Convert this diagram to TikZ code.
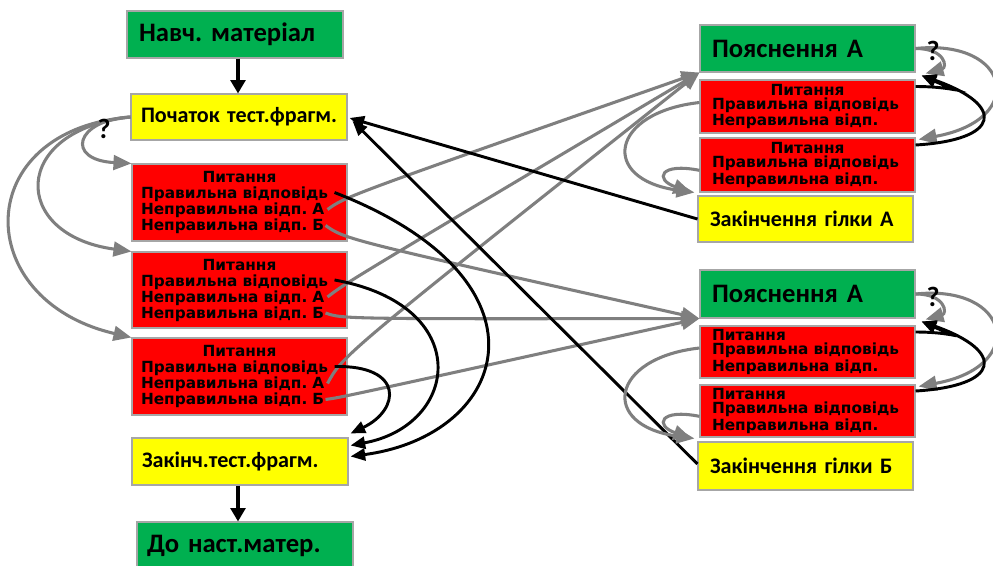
\documentclass[tikz,border=0pt]{standalone}
\usepackage{fontspec}
\setmainfont{Carlito}
\newfontfamily\qfont{DejaVu Sans}
\usetikzlibrary{arrows.meta}

\definecolor{gfill}{HTML}{00B050}
\definecolor{yfill}{HTML}{FFFF00}
\definecolor{rfill}{HTML}{FF0000}
\definecolor{edgegray}{HTML}{A6A6A6}
\definecolor{linkgray}{HTML}{7F7F7F}

\tikzset{
  box/.style={draw=edgegray, line width=0.8pt, inner ysep=0pt, align=left},
  lcol/.style={text width=147pt, inner xsep=7.5pt},
  rcol/.style={text width=143.25pt, inner xsep=9pt},
  titlebox/.style={box, fill=gfill, minimum height=35.25pt, font=\bfseries\fontsize{20}{22}\selectfont},
  markbox/.style={box, fill=yfill, minimum height=34.5pt, font=\bfseries\fontsize{16.6}{19}\selectfont},
  qbox/.style={box, fill=rfill, font=\qfont\bfseries\fontsize{11.5}{12}\selectfont},
  rqbox/.style={qbox, rcol, minimum height=39.75pt, font=\qfont\bfseries\fontsize{11.5}{10.6}\selectfont},
  glink/.style={draw=linkgray, line width=2.3pt, -{Triangle[length=13.5pt,width=11pt]}},
  back/.style={draw=black, line width=2.2pt, -{Triangle[length=11pt,width=9pt]}},
  flow/.style={draw=black, line width=3pt, -{Triangle[length=10pt,width=11pt]}},
  ask/.style={inner sep=0pt, font=\bfseries\fontsize{21}{21}\selectfont},
}

\begin{document}
\frenchspacing
\begin{tikzpicture}[x=0.75pt, y=-0.75pt]
\useasboundingbox (0,0) rectangle (993,565);
\clip (0,0) rectangle (993,565);

% ---- main column ----
\node[titlebox, text width=144pt, inner xsep=9pt] (mat) at (235,34.5) {Навч. матеріал};
\node[markbox, lcol] (start) at (239,117) {\mbox{Початок тест.фрагм.}};
\node[qbox, text width=147.75pt, inner xsep=6.75pt, minimum height=57.75pt] (q1) at (239.5,202.5)
  {\makebox[\linewidth]{Питання}\\Правильна відповідь\\Неправильна відп. А\\Неправильна відп. Б};
\node[qbox, text width=147.75pt, inner xsep=6.75pt, minimum height=57pt] (q2) at (239.5,290)
  {\makebox[\linewidth]{Питання}\\Правильна відповідь\\Неправильна відп. А\\Неправильна відп. Б};
\node[qbox, text width=147.75pt, inner xsep=6.75pt, minimum height=57.75pt] (q3) at (239.5,376.5)
  {\makebox[\linewidth]{Питання}\\Правильна відповідь\\Неправильна відп. А\\Неправильна відп. Б};
\node[markbox, lcol, minimum height=35.25pt] (fin) at (240,461.5) {Закінч.тест.фрагм.};
\node[titlebox, lcol] (next) at (245,545.5) {До наст.матер.};

% ---- branch A ----
\node[titlebox, rcol] (expA) at (807.5,48.5) {Пояснення А};
\node[rqbox] (a1) at (807.5,106.5)
  {\makebox[\linewidth]{Питання}\\Правильна відповідь\\Неправильна відп.};
\node[rqbox, minimum height=40.5pt] (a2) at (807.5,165)
  {\makebox[\linewidth]{Питання}\\Правильна відповідь\\Неправильна відп.};
\node[markbox, rcol] (endA) at (805.5,219) {Закінчення гілки А};

% ---- branch B ----
\node[titlebox, rcol, minimum height=36pt] (expB) at (807.5,294) {Пояснення А};
\node[rqbox, minimum height=39pt] (b1) at (807.5,352)
  {Питання\\Правильна відповідь\\Неправильна відп.};
\node[rqbox, minimum height=39pt] (b2) at (807.5,411)
  {Питання\\Правильна відповідь\\Неправильна відп.};
\node[markbox, rcol, minimum height=36pt] (endB) at (805.5,466) {Закінчення гілки Б};

% ---- main flow arrows ----
\draw[flow] ([xshift=2.25pt]mat.south) -- ([xshift=2.25pt]mat.south |- start.north);
\draw[flow] ([xshift=-1.5pt]fin.south) -- ([xshift=-1.5pt]fin.south |- next.north);

% ---- choice of question ----
\draw[glink] (start.west) .. controls (75,120) and (65,160) .. (q1.north west);
\draw[glink] (start.west) .. controls (10,130) and (10,235) .. (q2.north west);
\draw[glink] (start.west) .. controls (-30,130) and (-30,300) .. (q3.north west);

% ---- answer ends inside the question boxes ----
\foreach \q in {q1,q2,q3} {
  \coordinate (\q R) at ([shift={(-13,-10)}]\q.east);
  \coordinate (\q A) at ([shift={(-20,7)}]\q.east);
  \coordinate (\q B) at ([shift={(-22,23)}]\q.east);
}

% wrong answer A -> explanation A
\draw[glink] (q1A) .. controls ([shift={(18,-13)}]q1A) .. (expA.south west);
\draw[glink] (q2A) .. controls ([shift={(18,-14)}]q2A) .. (expA.south west);
\draw[glink] (q3A) .. controls ([shift={(15,-28)}]q3A) .. (expA.south west);

% wrong answer B -> explanation B
\draw[glink] (q1B) .. controls ([shift={(20,14)}]q1B) .. (expB.south west);
\draw[glink] (q2B) .. controls ([shift={(17,6)}]q2B) .. (expB.south west);
\draw[glink] (q3B) .. controls ([shift={(15,-2)}]q3B) .. (expB.south west);

% right answers -> end of the test fragment
\draw[back] (q1R) .. controls (560,280) and (510,435) .. ([shift={(2,19)}]fin.north east);
\draw[back] (q2R) .. controls (475,305) and (460,425) .. ([shift={(2,8)}]fin.north east);
\draw[back] (q3R) .. controls (405,365) and (400,410) .. ([shift={(2,-4)}]fin.north east);

% ends of the branches -> back to the start
\draw[back] (endA.west) -- ([shift={(2,1)}]start.east);
\draw[back] ([yshift=1.5pt]endB.west) -- ([shift={(5,4)}]start.east);

% ---- loops inside each branch ----
\foreach \e/\p/\r/\z in {expA/a1/a2/endA, expB/b1/b2/endB} {
  \draw[glink] (\e.east) .. controls +(95,-10) and +(110,-20) .. ([shift={(3,2)}]\r.north east);
  \draw[glink] (\e.east) .. controls +(30,0) and +(22,-6) .. ([shift={(10,-6)}]\p.north east);
  \draw[back] ([yshift=15pt]\p.east) .. controls +(45,0) and +(50,22) .. ([shift={(6,-4)}]\p.north east);
  \draw[back] ([yshift=15pt]\r.east) .. controls +(85,-5) and +(85,30) .. ([shift={(6,-4)}]\p.north east);
  \draw[glink] ([yshift=3pt]\p.west) .. controls +(-90,10) and +(-95,-13) .. ([shift={(-3,-3)}]\z.north west);
  \draw[glink] ([yshift=-4pt]\r.west) .. controls +(-40,-8) and +(-37,-13) .. ([shift={(-6,-3)}]\z.north west);
}

% ---- question marks ----
\node[ask] (ask0) at (104,129) {?};
\node[ask] (askA) at (933,51) {?};
\node[ask] (askB) at (933,297) {?};
\end{tikzpicture}
\end{document}
